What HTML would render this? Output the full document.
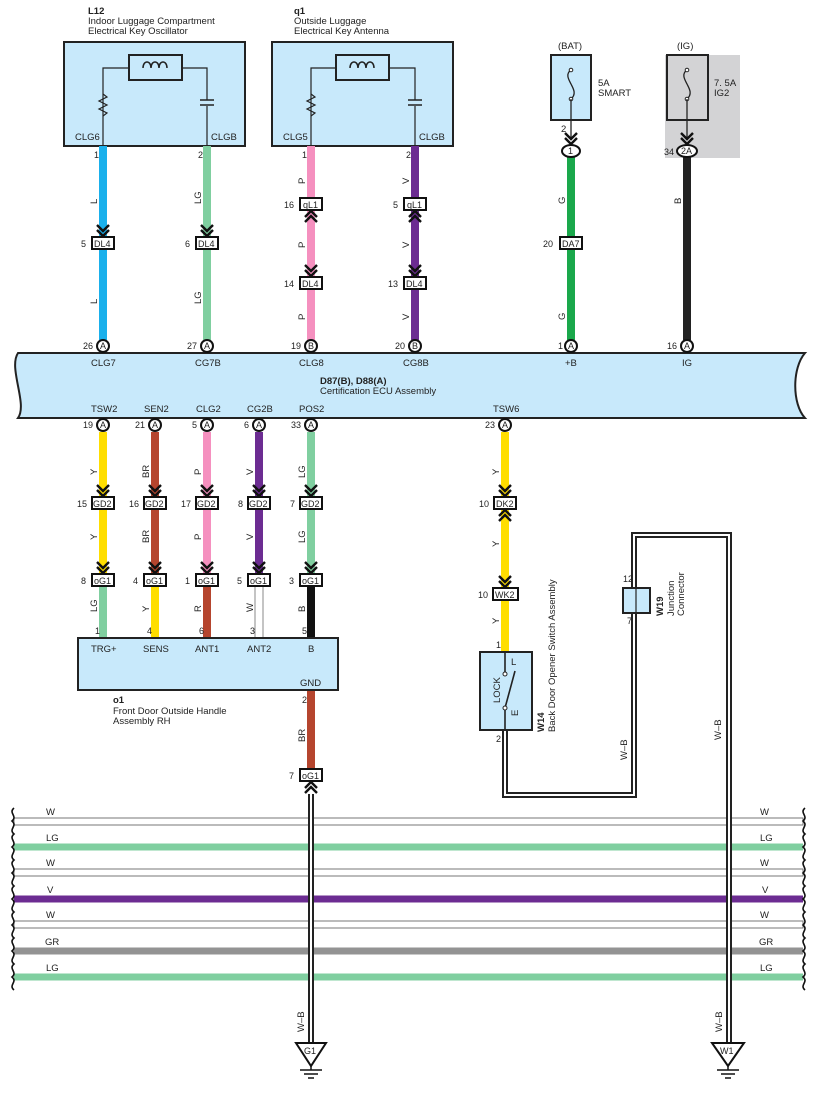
<!DOCTYPE html>
<html><head><meta charset="utf-8"><style>
html,body{margin:0;padding:0;background:#fff;}
svg{display:block;font-family:"Liberation Sans",Arial,sans-serif;}
text{font-size:9.5px;fill:#222;}
.b{font-weight:bold;}
.pn{font-size:9px;}
</style></head><body>
<svg width="817" height="1095" viewBox="0 0 817 1095" xmlns="http://www.w3.org/2000/svg">
<defs>
<g id="chd"><polyline points="-6,-7 0,-1 6,-7" fill="none" stroke="#111" stroke-width="2.4"/><polyline points="-6,-12 0,-6 6,-12" fill="none" stroke="#111" stroke-width="2.4"/></g>
<g id="chu"><polyline points="-6,7 0,1 6,7" fill="none" stroke="#111" stroke-width="2.4"/><polyline points="-6,12 0,6 6,12" fill="none" stroke="#111" stroke-width="2.4"/></g>
</defs>

<!-- L12 box -->
<text x="88" y="14" class="b">L12</text>
<text x="88" y="24">Indoor Luggage Compartment</text>
<text x="88" y="34">Electrical Key Oscillator</text>
<rect x="64" y="42" width="181" height="104" fill="#c8e9fb" stroke="#222" stroke-width="2"/>
<rect x="129" y="55" width="53" height="25" fill="none" stroke="#222" stroke-width="2"/>
<path d="M103,146 V68 H129 M182,68 H207 V100 M207,106 V146" fill="none" stroke="#222" stroke-width="1.2"/>
<path d="M103,94 l4,3 -8,4 8,4 -8,4 8,4 -4,3" fill="none" stroke="#222" stroke-width="1.2"/>
<path d="M200,100 H214 M200,105 H214" stroke="#222" stroke-width="1.5"/>
<path d="M143,68 c0,-8 8,-8 8,0 c0,-8 8,-8 8,0 c0,-8 8,-8 8,0" fill="none" stroke="#222" stroke-width="1.5"/>
<text x="75" y="140">CLG6</text><text x="211" y="140">CLGB</text>

<!-- q1 box -->
<text x="294" y="14" class="b">q1</text>
<text x="294" y="24">Outside Luggage</text>
<text x="294" y="34">Electrical Key Antenna</text>
<rect x="272" y="42" width="181" height="104" fill="#c8e9fb" stroke="#222" stroke-width="2"/>
<rect x="336" y="55" width="53" height="25" fill="none" stroke="#222" stroke-width="2"/>
<path d="M311,146 V68 H336 M389,68 H415 V100 M415,106 V146" fill="none" stroke="#222" stroke-width="1.2"/>
<path d="M311,94 l4,3 -8,4 8,4 -8,4 8,4 -4,3" fill="none" stroke="#222" stroke-width="1.2"/>
<path d="M408,100 H422 M408,105 H422" stroke="#222" stroke-width="1.5"/>
<path d="M350,68 c0,-8 8,-8 8,0 c0,-8 8,-8 8,0 c0,-8 8,-8 8,0" fill="none" stroke="#222" stroke-width="1.5"/>
<text x="283" y="140">CLG5</text><text x="419" y="140">CLGB</text>

<!-- BAT / IG -->
<text x="558" y="49">(BAT)</text>
<rect x="551" y="55" width="40" height="65" fill="#c8e9fb" stroke="#222" stroke-width="2"/>
<path d="M571,70 c-6,4 -2,10 0,14 c2,4 6,10 0,15" fill="none" stroke="#222" stroke-width="1.3"/>
<circle cx="571" cy="70" r="1.8" fill="#fff" stroke="#222"/><circle cx="571" cy="99" r="1.8" fill="#fff" stroke="#222"/>
<line x1="571" y1="99" x2="571" y2="140" stroke="#222" stroke-width="1.3"/>
<text x="598" y="86">5A</text><text x="598" y="96">SMART</text>
<text x="561" y="132">2</text>
<use href="#chd" x="571" y="145"/>
<rect x="665" y="55" width="75" height="103" fill="#d3d3d5"/>
<text x="677" y="49">(IG)</text>
<rect x="667" y="55" width="41" height="65" fill="none" stroke="#222" stroke-width="2"/>
<path d="M687,70 c-6,4 -2,10 0,14 c2,4 6,10 0,15" fill="none" stroke="#222" stroke-width="1.3"/>
<circle cx="687" cy="70" r="1.8" fill="#fff" stroke="#222"/><circle cx="687" cy="99" r="1.8" fill="#fff" stroke="#222"/>
<line x1="687" y1="99" x2="687" y2="140" stroke="#222" stroke-width="1.3"/>
<text x="714" y="86">7. 5A</text><text x="714" y="96">IG2</text>
<use href="#chd" x="687" y="145"/>

<!-- top wires -->
<line x1="103" y1="146" x2="103" y2="340" stroke="#1ab0ec" stroke-width="8"/>
<line x1="207" y1="146" x2="207" y2="340" stroke="#80cfa0" stroke-width="8"/>
<line x1="311" y1="146" x2="311" y2="340" stroke="#f590bf" stroke-width="8"/>
<line x1="415" y1="146" x2="415" y2="340" stroke="#6c2c92" stroke-width="8"/>
<line x1="571" y1="157" x2="571" y2="340" stroke="#1aa84b" stroke-width="8"/>
<line x1="687" y1="157" x2="687" y2="340" stroke="#222" stroke-width="8"/>
<ellipse cx="571" cy="151" rx="9" ry="6" fill="#fff" stroke="#111" stroke-width="2"/><text x="568" y="154" class="pn">1</text>
<ellipse cx="687" cy="151" rx="10" ry="6" fill="#fff" stroke="#111" stroke-width="2"/><text x="681" y="154" class="pn">2A</text>
<text x="664" y="155" class="pn">34</text>

<text x="94" y="158" class="pn">1</text><text x="198" y="158" class="pn">2</text>
<text x="302" y="158" class="pn">1</text><text x="406" y="158" class="pn">2</text>

<!-- wire labels top -->
<g>
<text transform="translate(97,204) rotate(-90)">L</text>
<text transform="translate(97,304) rotate(-90)">L</text>
<text transform="translate(201,204) rotate(-90)">LG</text>
<text transform="translate(201,304) rotate(-90)">LG</text>
<text transform="translate(305,184) rotate(-90)">P</text>
<text transform="translate(305,248) rotate(-90)">P</text>
<text transform="translate(305,320) rotate(-90)">P</text>
<text transform="translate(409,184) rotate(-90)">V</text>
<text transform="translate(409,248) rotate(-90)">V</text>
<text transform="translate(409,320) rotate(-90)">V</text>
<text transform="translate(565,204) rotate(-90)">G</text>
<text transform="translate(565,320) rotate(-90)">G</text>
<text transform="translate(681,204) rotate(-90)">B</text>
</g>

<!-- top connectors -->
<use href="#chd" x="103" y="237"/><rect x="92" y="237" width="22" height="12" fill="#fff" stroke="#111" stroke-width="2"/><text x="94" y="247" class="pn">DL4</text><text x="81" y="247" class="pn">5</text>
<use href="#chd" x="207" y="237"/><rect x="196" y="237" width="22" height="12" fill="#fff" stroke="#111" stroke-width="2"/><text x="198" y="247" class="pn">DL4</text><text x="185" y="247" class="pn">6</text>
<rect x="300" y="198" width="22" height="12" fill="#fff" stroke="#111" stroke-width="2"/><text x="303" y="208" class="pn">qL1</text><text x="284" y="208" class="pn">16</text><use href="#chu" x="311" y="210"/>
<rect x="404" y="198" width="22" height="12" fill="#fff" stroke="#111" stroke-width="2"/><text x="407" y="208" class="pn">qL1</text><text x="393" y="208" class="pn">5</text><use href="#chu" x="415" y="210"/>
<use href="#chd" x="311" y="277"/><rect x="300" y="277" width="22" height="12" fill="#fff" stroke="#111" stroke-width="2"/><text x="302" y="287" class="pn">DL4</text><text x="284" y="287" class="pn">14</text>
<use href="#chd" x="415" y="277"/><rect x="404" y="277" width="22" height="12" fill="#fff" stroke="#111" stroke-width="2"/><text x="406" y="287" class="pn">DL4</text><text x="388" y="287" class="pn">13</text>
<rect x="560" y="237" width="22" height="12" fill="#fff" stroke="#111" stroke-width="2"/><text x="562" y="247" class="pn">DA7</text><text x="543" y="247" class="pn">20</text>

<!-- ECU -->
<path d="M18,353 H805 C792,368 792,404 805,418 H18 C28,404 8,368 18,353 Z" fill="#c8e9fb" stroke="#222" stroke-width="2"/>
<g fill="#fff" stroke="#111" stroke-width="2">
<circle cx="103" cy="346" r="6"/><circle cx="207" cy="346" r="6"/><circle cx="311" cy="346" r="6"/><circle cx="415" cy="346" r="6"/><circle cx="571" cy="346" r="6"/><circle cx="687" cy="346" r="6"/>
<circle cx="103" cy="425" r="6"/><circle cx="155" cy="425" r="6"/><circle cx="207" cy="425" r="6"/><circle cx="259" cy="425" r="6"/><circle cx="311" cy="425" r="6"/><circle cx="505" cy="425" r="6"/>
</g>
<g class="pn">
<text x="100" y="349" class="pn">A</text><text x="204" y="349" class="pn">A</text><text x="308" y="349" class="pn">B</text><text x="412" y="349" class="pn">B</text><text x="568" y="349" class="pn">A</text><text x="684" y="349" class="pn">A</text>
<text x="83" y="349" class="pn">26</text><text x="187" y="349" class="pn">27</text><text x="291" y="349" class="pn">19</text><text x="395" y="349" class="pn">20</text><text x="558" y="349" class="pn">1</text><text x="667" y="349" class="pn">16</text>
<text x="100" y="428" class="pn">A</text><text x="152" y="428" class="pn">A</text><text x="204" y="428" class="pn">A</text><text x="256" y="428" class="pn">A</text><text x="308" y="428" class="pn">A</text><text x="502" y="428" class="pn">A</text>
<text x="83" y="428" class="pn">19</text><text x="135" y="428" class="pn">21</text><text x="192" y="428" class="pn">5</text><text x="244" y="428" class="pn">6</text><text x="291" y="428" class="pn">33</text><text x="485" y="428" class="pn">23</text>
</g>
<text x="91" y="366">CLG7</text><text x="195" y="366">CG7B</text><text x="299" y="366">CLG8</text><text x="403" y="366">CG8B</text><text x="565" y="366">+B</text><text x="682" y="366">IG</text>
<text x="320" y="384" class="b">D87(B), D88(A)</text>
<text x="320" y="394">Certification ECU Assembly</text>
<text x="91" y="412">TSW2</text><text x="144" y="412">SEN2</text><text x="196" y="412">CLG2</text><text x="247" y="412">CG2B</text><text x="299" y="412">POS2</text><text x="493" y="412">TSW6</text>

<!-- bottom wires -->
<line x1="103" y1="432" x2="103" y2="580" stroke="#ffde00" stroke-width="8"/>
<line x1="103" y1="586" x2="103" y2="638" stroke="#80cfa0" stroke-width="8"/>
<line x1="155" y1="432" x2="155" y2="580" stroke="#b5452e" stroke-width="8"/>
<line x1="155" y1="586" x2="155" y2="638" stroke="#ffde00" stroke-width="8"/>
<line x1="207" y1="432" x2="207" y2="580" stroke="#f590bf" stroke-width="8"/>
<line x1="207" y1="586" x2="207" y2="638" stroke="#b5452e" stroke-width="8"/>
<line x1="259" y1="432" x2="259" y2="580" stroke="#6c2c92" stroke-width="8"/>
<rect x="255" y="586" width="8" height="52" fill="#fff" stroke="#888" stroke-width="1"/>
<line x1="311" y1="432" x2="311" y2="580" stroke="#80cfa0" stroke-width="8"/>
<line x1="311" y1="586" x2="311" y2="638" stroke="#111" stroke-width="8"/>
<line x1="505" y1="432" x2="505" y2="652" stroke="#ffde00" stroke-width="8"/>
<line x1="311" y1="690" x2="311" y2="775" stroke="#b5452e" stroke-width="8"/>

<g>
<text transform="translate(97,475) rotate(-90)">Y</text><text transform="translate(97,540) rotate(-90)">Y</text><text transform="translate(97,612) rotate(-90)">LG</text>
<text transform="translate(149,478) rotate(-90)">BR</text><text transform="translate(149,543) rotate(-90)">BR</text><text transform="translate(149,612) rotate(-90)">Y</text>
<text transform="translate(201,475) rotate(-90)">P</text><text transform="translate(201,540) rotate(-90)">P</text><text transform="translate(201,612) rotate(-90)">R</text>
<text transform="translate(253,475) rotate(-90)">V</text><text transform="translate(253,540) rotate(-90)">V</text><text transform="translate(253,612) rotate(-90)">W</text>
<text transform="translate(305,478) rotate(-90)">LG</text><text transform="translate(305,543) rotate(-90)">LG</text><text transform="translate(305,612) rotate(-90)">B</text>
<text transform="translate(499,475) rotate(-90)">Y</text><text transform="translate(499,547) rotate(-90)">Y</text><text transform="translate(499,624) rotate(-90)">Y</text>
<text transform="translate(305,742) rotate(-90)">BR</text>
</g>

<!-- GD2 / oG1 -->
<g>
<use href="#chd" x="103" y="497"/><rect x="92" y="497" width="22" height="12" fill="#fff" stroke="#111" stroke-width="2"/><text x="93" y="507" class="pn">GD2</text><text x="77" y="507" class="pn">15</text>
<use href="#chd" x="155" y="497"/><rect x="144" y="497" width="22" height="12" fill="#fff" stroke="#111" stroke-width="2"/><text x="145" y="507" class="pn">GD2</text><text x="129" y="507" class="pn">16</text>
<use href="#chd" x="207" y="497"/><rect x="196" y="497" width="22" height="12" fill="#fff" stroke="#111" stroke-width="2"/><text x="197" y="507" class="pn">GD2</text><text x="181" y="507" class="pn">17</text>
<use href="#chd" x="259" y="497"/><rect x="248" y="497" width="22" height="12" fill="#fff" stroke="#111" stroke-width="2"/><text x="249" y="507" class="pn">GD2</text><text x="238" y="507" class="pn">8</text>
<use href="#chd" x="311" y="497"/><rect x="300" y="497" width="22" height="12" fill="#fff" stroke="#111" stroke-width="2"/><text x="301" y="507" class="pn">GD2</text><text x="290" y="507" class="pn">7</text>
<use href="#chd" x="103" y="574"/><rect x="92" y="574" width="22" height="12" fill="#fff" stroke="#111" stroke-width="2"/><text x="94" y="584" class="pn">oG1</text><text x="81" y="584" class="pn">8</text>
<use href="#chd" x="155" y="574"/><rect x="144" y="574" width="22" height="12" fill="#fff" stroke="#111" stroke-width="2"/><text x="146" y="584" class="pn">oG1</text><text x="133" y="584" class="pn">4</text>
<use href="#chd" x="207" y="574"/><rect x="196" y="574" width="22" height="12" fill="#fff" stroke="#111" stroke-width="2"/><text x="198" y="584" class="pn">oG1</text><text x="185" y="584" class="pn">1</text>
<use href="#chd" x="259" y="574"/><rect x="248" y="574" width="22" height="12" fill="#fff" stroke="#111" stroke-width="2"/><text x="250" y="584" class="pn">oG1</text><text x="237" y="584" class="pn">5</text>
<use href="#chd" x="311" y="574"/><rect x="300" y="574" width="22" height="12" fill="#fff" stroke="#111" stroke-width="2"/><text x="302" y="584" class="pn">oG1</text><text x="289" y="584" class="pn">3</text>
<use href="#chd" x="505" y="497"/><rect x="494" y="497" width="22" height="12" fill="#fff" stroke="#111" stroke-width="2"/><text x="496" y="507" class="pn">DK2</text><text x="479" y="507" class="pn">10</text><use href="#chu" x="505" y="509"/>
<use href="#chd" x="505" y="588"/><rect x="493" y="588" width="25" height="12" fill="#fff" stroke="#111" stroke-width="2"/><text x="495" y="598" class="pn">WK2</text><text x="478" y="598" class="pn">10</text>
</g>
<text x="95" y="634" class="pn">1</text><text x="147" y="634" class="pn">4</text><text x="199" y="634" class="pn">6</text><text x="250" y="634" class="pn">3</text><text x="302" y="634" class="pn">5</text>
<text x="496" y="648" class="pn">1</text>

<!-- o1 box -->
<rect x="78" y="638" width="260" height="52" fill="#c8e9fb" stroke="#222" stroke-width="2"/>
<text x="91" y="652">TRG+</text><text x="143" y="652">SENS</text><text x="195" y="652">ANT1</text><text x="247" y="652">ANT2</text><text x="308" y="652">B</text><text x="300" y="686">GND</text>
<text x="113" y="703" class="b">o1</text><text x="113" y="714">Front Door Outside Handle</text><text x="113" y="724">Assembly RH</text>
<text x="302" y="703" class="pn">2</text>
<rect x="300" y="769" width="22" height="12" fill="#fff" stroke="#111" stroke-width="2"/><text x="302" y="779" class="pn">oG1</text><text x="289" y="779" class="pn">7</text><use href="#chu" x="311" y="781"/>

<!-- horizontal lines -->
<g>
<rect x="14" y="818" width="789" height="7" fill="#fff" stroke="#777" stroke-width="1"/>
<line x1="14" y1="847" x2="803" y2="847" stroke="#80cfa0" stroke-width="7"/>
<rect x="14" y="869" width="789" height="7" fill="#fff" stroke="#777" stroke-width="1"/>
<line x1="14" y1="899" x2="803" y2="899" stroke="#6c2c92" stroke-width="7"/>
<rect x="14" y="921" width="789" height="7" fill="#fff" stroke="#777" stroke-width="1"/>
<line x1="14" y1="951" x2="803" y2="951" stroke="#939393" stroke-width="7"/>
<line x1="14" y1="977" x2="803" y2="977" stroke="#80cfa0" stroke-width="7"/>
</g>
<path d="M14,808 c-6,5 4,8 -2,13 c6,5 -4,8 2,13 c-6,5 4,8 -2,13 c6,5 -4,8 2,13 c-6,5 4,8 -2,13 c6,5 -4,8 2,13 c-6,5 4,8 -2,13 c6,5 -4,8 2,13 c-6,5 4,8 -2,13 c6,5 -4,8 2,13 c-6,5 4,8 -2,13 c6,5 -4,8 2,13 c-6,5 4,8 -2,13 c6,5 -4,8 2,13" fill="none" stroke="#111" stroke-width="1.6"/>
<path d="M805,808 c-6,5 4,8 -2,13 c6,5 -4,8 2,13 c-6,5 4,8 -2,13 c6,5 -4,8 2,13 c-6,5 4,8 -2,13 c6,5 -4,8 2,13 c-6,5 4,8 -2,13 c6,5 -4,8 2,13 c-6,5 4,8 -2,13 c6,5 -4,8 2,13 c-6,5 4,8 -2,13 c6,5 -4,8 2,13 c-6,5 4,8 -2,13 c6,5 -4,8 2,13" fill="none" stroke="#111" stroke-width="1.6"/>
<g>
<text x="46" y="815">W</text><text x="46" y="841">LG</text><text x="46" y="866">W</text><text x="47" y="893">V</text><text x="46" y="918">W</text><text x="45" y="945">GR</text><text x="46" y="971">LG</text>
<text x="760" y="815">W</text><text x="760" y="841">LG</text><text x="760" y="866">W</text><text x="762" y="893">V</text><text x="760" y="918">W</text><text x="759" y="945">GR</text><text x="760" y="971">LG</text>
</g>

<!-- W-B wires -->
<path d="M311,794 V1043" fill="none" stroke="#222" stroke-width="6"/>
<path d="M311,794 V1043" fill="none" stroke="#fff" stroke-width="2"/>
<path d="M505,730 V795 H634 V535 H729 V1043" fill="none" stroke="#222" stroke-width="6"/>
<path d="M505,730 V795 H634 V535 H729 V1043" fill="none" stroke="#fff" stroke-width="2"/>
<text transform="translate(304,1032) rotate(-90)">W–B</text>
<text transform="translate(627,760) rotate(-90)">W–B</text>
<text transform="translate(721,740) rotate(-90)">W–B</text>
<text transform="translate(722,1032) rotate(-90)">W–B</text>

<!-- W19 -->
<rect x="623" y="588" width="27" height="25" fill="#c8e9fb" stroke="#222" stroke-width="2"/>
<line x1="636" y1="588" x2="636" y2="613" stroke="#222" stroke-width="1.2"/>
<text x="623" y="582" class="pn">12</text><text x="627" y="624" class="pn">7</text>
<text transform="translate(663,616) rotate(-90)" class="b">W19</text>
<text transform="translate(674,616) rotate(-90)">Junction</text>
<text transform="translate(684,616) rotate(-90)">Connector</text>

<!-- W14 switch -->
<rect x="480" y="652" width="52" height="78" fill="#c8e9fb" stroke="#222" stroke-width="2"/>
<path d="M505,652 V674 M505,708 V730 M505,708 L515,671" fill="none" stroke="#222" stroke-width="1.6"/>
<circle cx="505" cy="674" r="2" fill="#fff" stroke="#222"/><circle cx="505" cy="708" r="2" fill="#fff" stroke="#222"/>
<text x="511" y="665">L</text><text transform="translate(518,716) rotate(-90)">E</text>
<text transform="translate(500,703) rotate(-90)">LOCK</text>
<text x="496" y="742" class="pn">2</text>
<text transform="translate(544,732) rotate(-90)" class="b">W14</text>
<text transform="translate(555,732) rotate(-90)">Back Door Opener Switch Assembly</text>

<!-- grounds -->
<path d="M296,1043 H326 L311,1066 Z" fill="#fff" stroke="#111" stroke-width="2"/><text x="304" y="1054" class="pn">G1</text>
<path d="M311,1066 V1070 M300,1070 H322 M304,1074 H318 M308,1078 H314" stroke="#111" stroke-width="1.5"/>
<path d="M712,1043 H744 L728,1066 Z" fill="#fff" stroke="#111" stroke-width="2"/><text x="720" y="1054" class="pn">W1</text>
<path d="M728,1066 V1070 M717,1070 H739 M721,1074 H735 M725,1078 H731" stroke="#111" stroke-width="1.5"/>
</svg>
</body></html>
